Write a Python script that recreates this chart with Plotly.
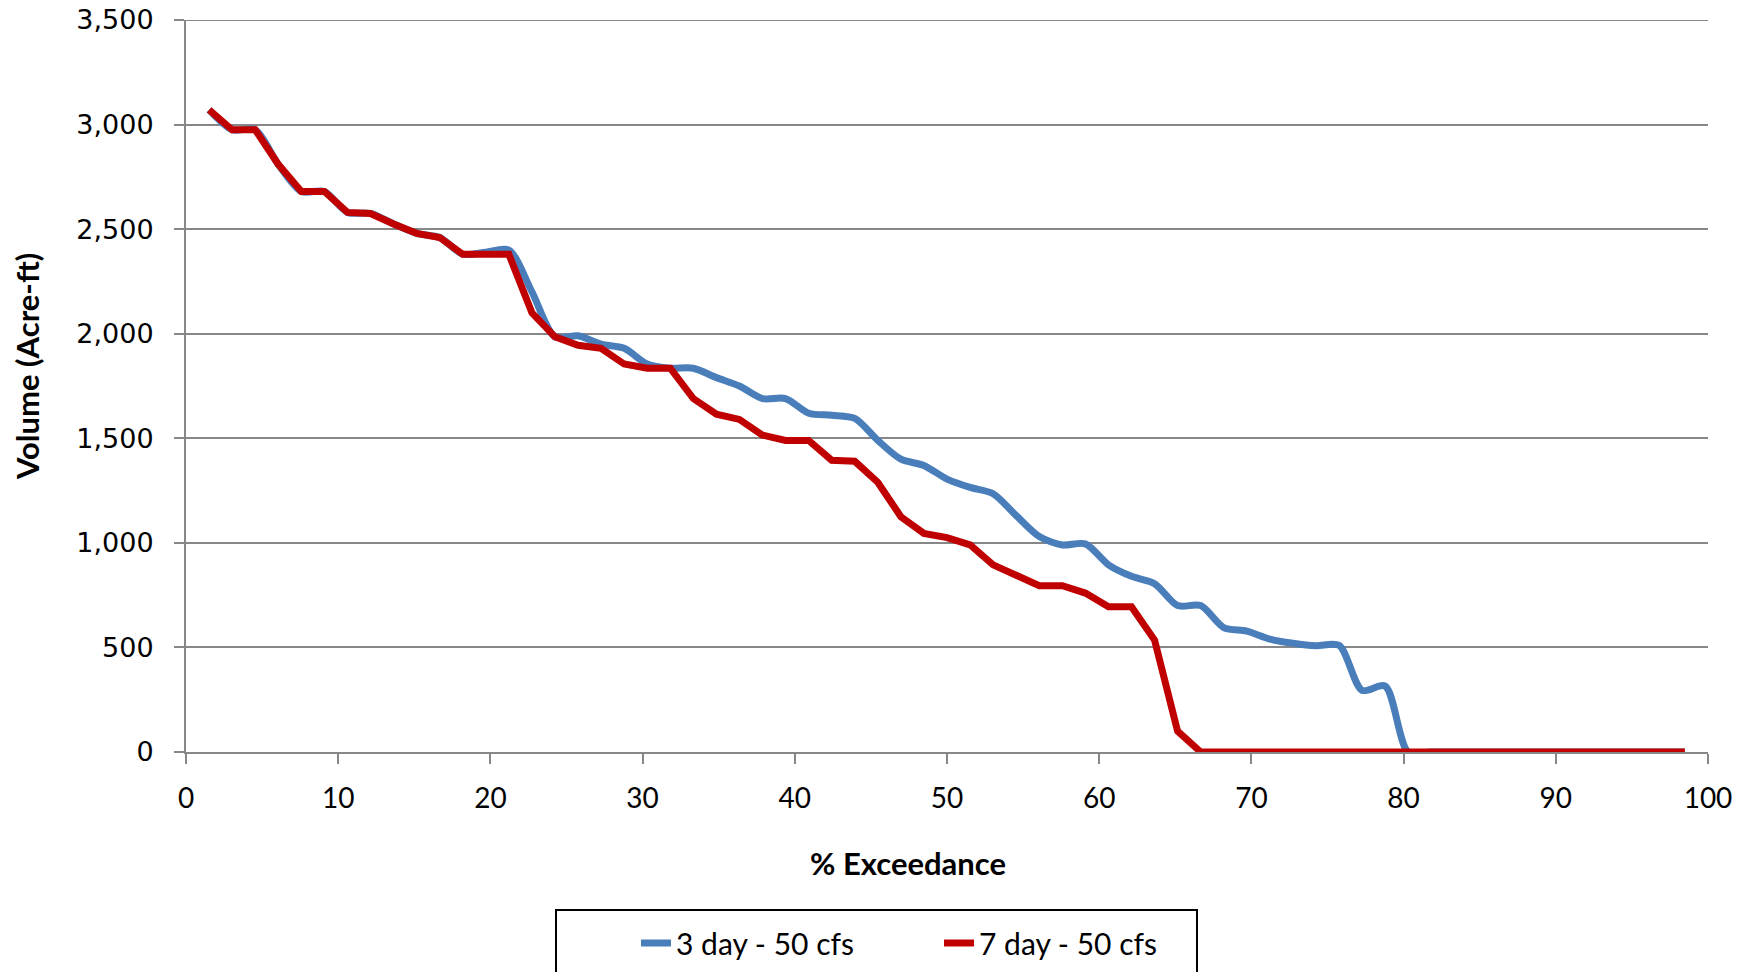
import plotly.graph_objects as go

exceedance = [1.52, 3.03, 4.55, 6.06, 7.58, 9.09, 10.61, 12.12, 13.64, 15.15,
              16.67, 18.18, 19.70, 21.21, 22.73, 24.24, 25.76, 27.27, 28.79, 30.30,
              31.82, 33.33, 34.85, 36.36, 37.88, 39.39, 40.91, 42.42, 43.94, 45.45,
              46.97, 48.48, 50.00, 51.52, 53.03, 54.55, 56.06, 57.58, 59.09, 60.61,
              62.12, 63.64, 65.15, 66.67, 68.18, 69.70, 71.21, 72.73, 74.24, 75.76,
              77.27, 78.79, 80.30, 81.82, 83.33, 84.85, 86.36, 87.88, 89.39, 90.91,
              92.42, 93.94, 95.45, 96.97, 98.48]

vol_3day = [3070, 2975, 2975, 2810, 2680, 2680, 2580, 2575, 2525, 2480,
            2460, 2380, 2390, 2400, 2200, 1985, 1990, 1950, 1930, 1855,
            1835, 1835, 1790, 1750, 1690, 1690, 1620, 1610, 1595, 1490,
            1400, 1370, 1305, 1265, 1235, 1130, 1030, 990, 995, 895,
            840, 805, 700, 700, 595, 578, 540, 520, 508, 510,
            295, 315, 0, 0, 0, 0, 0, 0, 0, 0,
            0, 0, 0, 0, 0]

vol_7day = [3070, 2975, 2975, 2810, 2680, 2680, 2580, 2575, 2525, 2480,
            2460, 2380, 2380, 2380, 2100, 1985, 1945, 1930, 1855, 1835,
            1835, 1690, 1615, 1590, 1515, 1490, 1490, 1395, 1390, 1290,
            1125, 1045, 1025, 990, 895, 845, 795, 795, 760, 695,
            695, 535, 100, 0, 0, 0, 0, 0, 0, 0,
            0, 0, 0, 0, 0, 0, 0, 0, 0, 0,
            0, 0, 0, 0, 0]

series_names = ["3 day - 50 cfs", "7 day - 50 cfs"]
x_ticks = [0, 10, 20, 30, 40, 50, 60, 70, 80, 90, 100]
y_ticks = [0, 500, 1000, 1500, 2000, 2500, 3000, 3500]

fig = go.Figure()
fig.add_trace(go.Scatter(x=exceedance, y=vol_3day, mode="lines", name=series_names[0],
                         line=dict(color="#4A7EBB", width=7, shape="spline", smoothing=0.8)))
fig.add_trace(go.Scatter(x=exceedance, y=vol_7day, mode="lines", name=series_names[1],
                         line=dict(color="#C00000", width=7)))

W, H = 1753, 972
L, R, T, B = 178, 53, 12, 228
pw = W - L - R
ph = H - T - B

def px_to_paper_x(px):
    return (px - L) / pw

def px_to_paper_y(py):
    return (H - B - py) / ph

grid_col = "#878787"
title_font = dict(family="Lato, sans-serif", size=31, color="black")
fig.update_layout(
    width=W, height=H,
    margin=dict(l=L, r=R, t=T, b=B, autoexpand=False),
    paper_bgcolor="white", plot_bgcolor="white",
    showlegend=True,
    legend=dict(orientation="h", x=px_to_paper_x(628), xanchor="left",
                y=px_to_paper_y(909), yanchor="top",
                font=dict(family="Lato, sans-serif", size=30, color="black"),
                entrywidth=258, entrywidthmode="pixels",
                borderwidth=0, bgcolor="rgba(0,0,0,0)"),
    shapes=[
        dict(type="rect", xref="paper", yref="paper",
             x0=px_to_paper_x(548), x1=px_to_paper_x(1189),
             y0=px_to_paper_y(902), y1=px_to_paper_y(1010),
             line=dict(color="black", width=2), fillcolor="rgba(0,0,0,0)", layer="below"),
        # top gridline (plotly drops gridlines lying exactly on the range end)
        dict(type="line", xref="paper", yref="y", x0=0, x1=1, y0=y_ticks[-1], y1=y_ticks[-1],
             line=dict(color=grid_col, width=2), layer="below"),
    ],
    annotations=[
        dict(text="<b>% Exceedance</b>", xref="paper", yref="paper",
             x=px_to_paper_x(900), y=px_to_paper_y(855), xanchor="center", yanchor="middle",
             showarrow=False, font=title_font),
        dict(text="<b>Volume (Acre-ft)</b>", xref="paper", yref="paper",
             x=px_to_paper_x(19), y=px_to_paper_y(359), xanchor="center", yanchor="middle",
             textangle=-90, showarrow=False, font=title_font),
    ],
    xaxis=dict(range=[0, 100], tickvals=x_ticks, ticks="outside", ticklen=10, tickwidth=2,
               tickcolor=grid_col, showline=True, linecolor=grid_col, linewidth=2,
               showgrid=False, zeroline=False,
               tickfont=dict(family="Lato, sans-serif", size=28, color="black"),
               ticklabelstandoff=10),
    yaxis=dict(range=[0, 3500], tickvals=y_ticks, tickformat=",d", ticks="outside", ticklen=10,
               tickwidth=2, tickcolor=grid_col, showline=True, linecolor=grid_col, linewidth=2,
               showgrid=True, gridcolor=grid_col, gridwidth=2, zeroline=False,
               tickfont=dict(family="DejaVu Sans, sans-serif", size=27, color="black"),
               ticklabeloverflow="allow", ticklabelstandoff=15),
)

fig.write_html("out.html")
